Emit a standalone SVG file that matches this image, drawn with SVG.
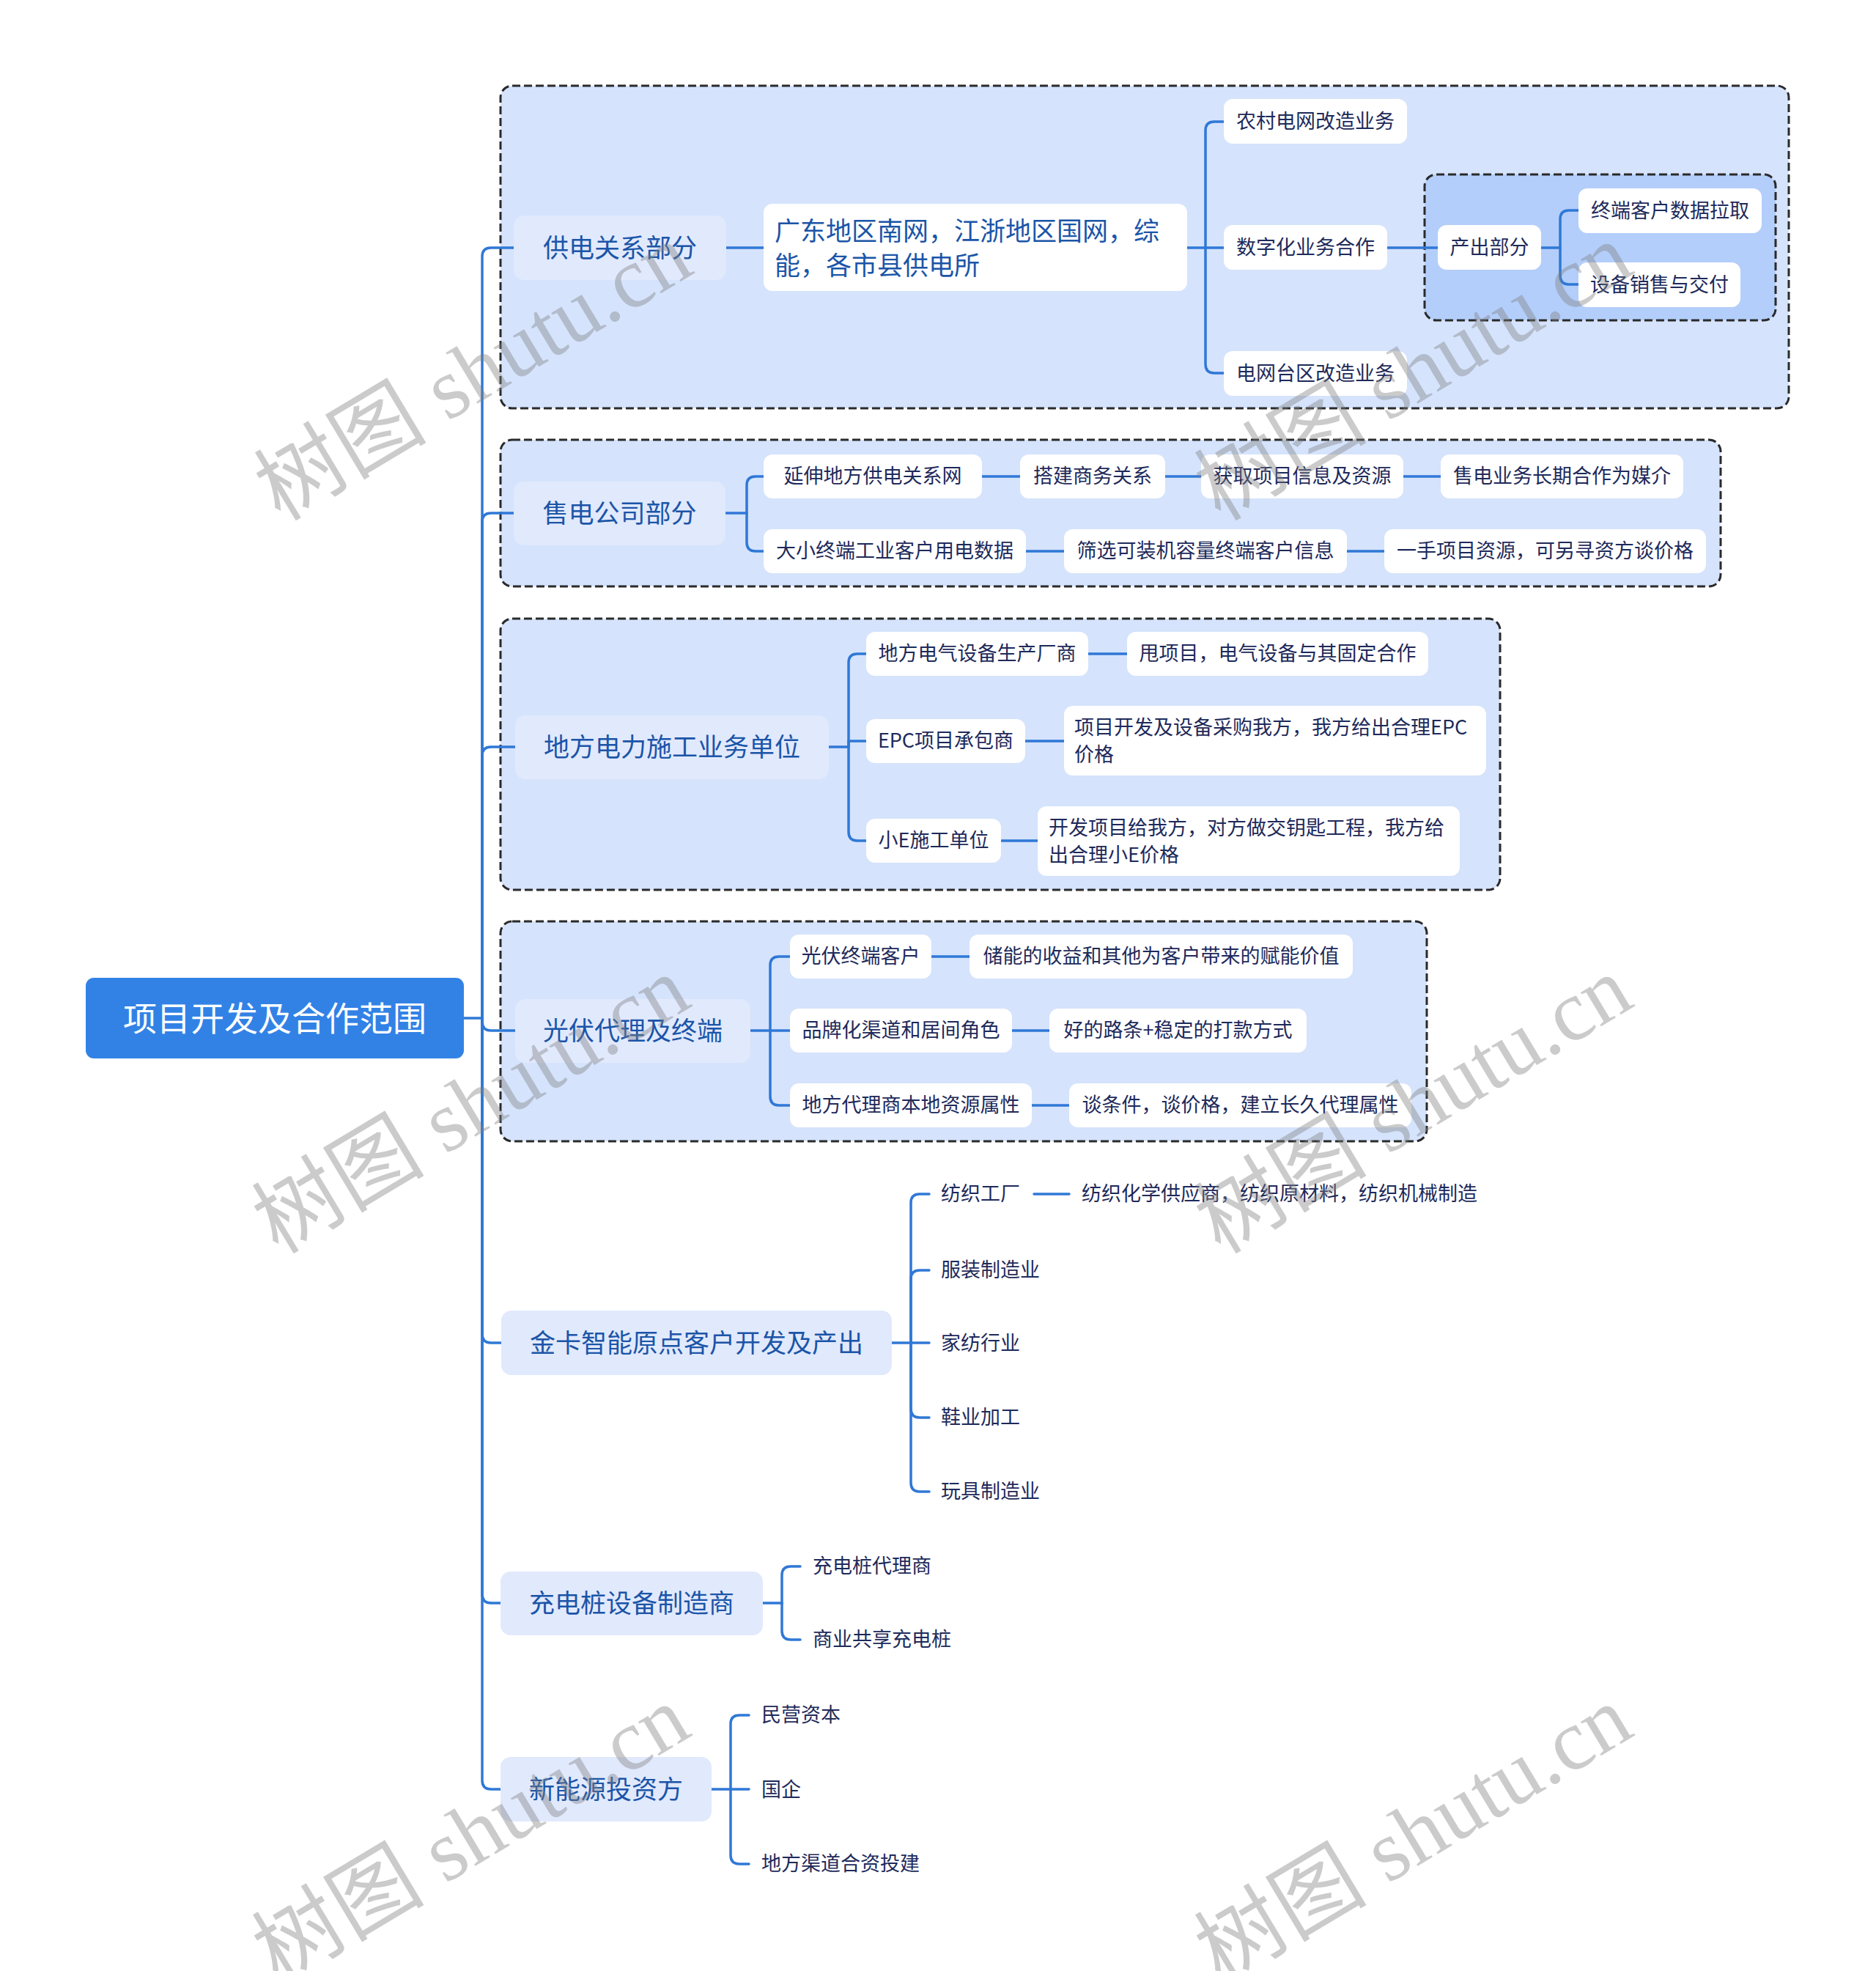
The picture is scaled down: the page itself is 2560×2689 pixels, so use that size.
<svg xmlns="http://www.w3.org/2000/svg" width="2560" height="2689" viewBox="0 0 2560 2689">
<style>
.grp{fill:#d5e3fc;stroke:#2a2a2a;stroke-width:3;stroke-dasharray:11 5}
.grp2{fill:#b3cefa;stroke:#2a2a2a;stroke-width:3;stroke-dasharray:11 5}
.topic{fill:#e1e9fd}
.leaf{fill:#ffffff}
.ln{fill:none;stroke:#2f78d6;stroke-width:3.5;stroke-linecap:round}
text{font-family:"Noto Sans CJK SC","Noto Sans",sans-serif}
.tt{font-size:35px;fill:#1b55a8}
.lt{font-size:27px;fill:#1e2a5a}
.ct{text-anchor:middle;dominant-baseline:central;transform:translate(0px,-3px)}
.st{dominant-baseline:central;transform:translate(0px,-3px)}
.wm{font-family:"Liberation Serif","Noto Sans CJK SC",serif;font-size:118px;fill:#808080;opacity:0.4;text-anchor:middle;dominant-baseline:central}
</style>
<rect width="2560" height="2689" fill="#ffffff"/>

<g id="groups">
<rect class="grp" x="683" y="117" width="1758" height="440" rx="16"/>
<rect class="grp2" x="1944" y="238" width="479" height="199" rx="16"/>
<rect class="grp" x="683" y="600" width="1665" height="200" rx="16"/>
<rect class="grp" x="683" y="844" width="1364" height="370" rx="16"/>
<rect class="grp" x="683" y="1257" width="1264" height="300" rx="16"/>
</g>

<g id="connectors">
<path class="ln" d="M633 1389H658V350Q658 338 670 338H701"/>
<path class="ln" d="M658 1389V712Q658 700 670 700H701"/>
<path class="ln" d="M658 1389V1031Q658 1019 670 1019H703"/>
<path class="ln" d="M658 1389V1394Q658 1406 670 1406H703"/>
<path class="ln" d="M658 1389V1820Q658 1832 670 1832H684"/>
<path class="ln" d="M658 1389V2175Q658 2187 670 2187H683"/>
<path class="ln" d="M658 1389V2429Q658 2441 670 2441H683"/>

<path class="ln" d="M991 338H1042"/>
<path class="ln" d="M1620 338H1645V178Q1645 166 1657 166H1670"/>
<path class="ln" d="M1645 338H1670"/>
<path class="ln" d="M1645 338V497Q1645 509 1657 509H1670"/>
<path class="ln" d="M1893 338H1962"/>
<path class="ln" d="M2103 338H2129V299Q2129 287 2141 287H2154"/>
<path class="ln" d="M2129 338V376Q2129 388 2141 388H2154"/>

<path class="ln" d="M990 700H1019V662Q1019 650 1031 650H1042"/>
<path class="ln" d="M1019 700V740Q1019 752 1031 752H1042"/>
<path class="ln" d="M1340 650H1392M1590 650H1639M1915 650H1966"/>
<path class="ln" d="M1400 752H1452M1838 752H1889"/>

<path class="ln" d="M1131 1019H1158V904Q1158 892 1170 892H1182"/>
<path class="ln" d="M1158 1019V1011H1182"/>
<path class="ln" d="M1158 1019V1135Q1158 1147 1170 1147H1182"/>
<path class="ln" d="M1485 892H1538M1399 1011H1452M1366 1147H1416"/>

<path class="ln" d="M1024 1406H1051V1317Q1051 1305 1063 1305H1078"/>
<path class="ln" d="M1051 1406H1078"/>
<path class="ln" d="M1051 1406V1496Q1051 1508 1063 1508H1078"/>
<path class="ln" d="M1271 1305H1323M1381 1406H1432M1408 1508H1459"/>

<path class="ln" d="M1217 1832H1243V1641Q1243 1629 1255 1629H1268"/>
<path class="ln" d="M1243 1832V1745Q1243 1733 1255 1733H1268"/>
<path class="ln" d="M1243 1832H1268"/>
<path class="ln" d="M1243 1832V1922Q1243 1934 1255 1934H1268"/>
<path class="ln" d="M1243 1832V2023Q1243 2035 1255 2035H1268"/>
<path class="ln" d="M1411 1629H1459"/>

<path class="ln" d="M1041 2187H1067V2149Q1067 2137 1079 2137H1092"/>
<path class="ln" d="M1067 2187V2225Q1067 2237 1079 2237H1092"/>

<path class="ln" d="M971 2441H997V2352Q997 2340 1009 2340H1022"/>
<path class="ln" d="M997 2441H1022"/>
<path class="ln" d="M997 2441V2531Q997 2543 1009 2543H1022"/>
</g>

<g id="root">
<rect x="117" y="1334" width="516" height="110" rx="11" fill="#3282e6"/>
<text class="ct" x="375" y="1389" font-size="46" fill="#ffffff">项目开发及合作范围</text>
</g>

<g id="n-gongdian">
<rect class="topic" x="701" y="294" width="290" height="88" rx="14"/>
<text class="tt ct" x="846" y="338">供电关系部分</text>
</g>
<g id="n-gongdian-1">
<rect class="leaf" x="1042" y="278" width="578" height="119" rx="12"/>
<text class="tt st" x="1057" y="315">广东地区南网，江浙地区国网，综</text>
<text class="tt st" x="1057" y="362">能，各市县供电所</text>
</g>
<g id="n-nongcun"><rect class="leaf" x="1670" y="135" width="250" height="61" rx="12"/><text class="lt ct" x="1795" y="166">农村电网改造业务</text></g>
<g id="n-shuzi"><rect class="leaf" x="1670" y="307" width="223" height="61" rx="12"/><text class="lt ct" x="1781.5" y="338">数字化业务合作</text></g>
<g id="n-taiqu"><rect class="leaf" x="1670" y="479" width="250" height="61" rx="12"/><text class="lt ct" x="1795" y="510">电网台区改造业务</text></g>
<g id="n-chanchu"><rect class="leaf" x="1962" y="307" width="141" height="61" rx="12"/><text class="lt ct" x="2032.5" y="338">产出部分</text></g>
<g id="n-zhongduan"><rect class="leaf" x="2154" y="257" width="250" height="61" rx="12"/><text class="lt ct" x="2279" y="288">终端客户数据拉取</text></g>
<g id="n-shebei"><rect class="leaf" x="2154" y="358" width="221" height="61" rx="12"/><text class="lt ct" x="2264.5" y="389">设备销售与交付</text></g>

<g id="n-shoudian">
<rect class="topic" x="701" y="657" width="289" height="87" rx="14"/>
<text class="tt ct" x="845.5" y="700">售电公司部分</text>
</g>
<g id="n-sd1"><rect class="leaf" x="1042" y="620" width="298" height="60" rx="12"/><text class="lt ct" x="1191" y="650">延伸地方供电关系网</text></g>
<g id="n-sd2"><rect class="leaf" x="1392" y="620" width="198" height="60" rx="12"/><text class="lt ct" x="1491" y="650">搭建商务关系</text></g>
<g id="n-sd3"><rect class="leaf" x="1639" y="620" width="276" height="60" rx="12"/><text class="lt ct" x="1777" y="650">获取项目信息及资源</text></g>
<g id="n-sd4"><rect class="leaf" x="1966" y="620" width="331" height="60" rx="12"/><text class="lt ct" x="2131.5" y="650">售电业务长期合作为媒介</text></g>
<g id="n-sd5"><rect class="leaf" x="1042" y="722" width="358" height="60" rx="12"/><text class="lt ct" x="1221" y="752">大小终端工业客户用电数据</text></g>
<g id="n-sd6"><rect class="leaf" x="1452" y="722" width="386" height="60" rx="12"/><text class="lt ct" x="1645" y="752">筛选可装机容量终端客户信息</text></g>
<g id="n-sd7"><rect class="leaf" x="1889" y="722" width="439" height="60" rx="12"/><text class="lt ct" x="2108.5" y="752">一手项目资源，可另寻资方谈价格</text></g>

<g id="n-shigong">
<rect class="topic" x="703" y="976" width="428" height="87" rx="14"/>
<text class="tt ct" x="917" y="1019">地方电力施工业务单位</text>
</g>
<g id="n-sg1"><rect class="leaf" x="1182" y="862" width="303" height="60" rx="12"/><text class="lt ct" x="1333.5" y="892">地方电气设备生产厂商</text></g>
<g id="n-sg2"><rect class="leaf" x="1538" y="862" width="411" height="60" rx="12"/><text class="lt ct" x="1743.5" y="892">甩项目，电气设备与其固定合作</text></g>
<g id="n-sg3"><rect class="leaf" x="1182" y="981" width="217" height="60" rx="12"/><text class="lt ct" x="1290.5" y="1011">EPC项目承包商</text></g>
<g id="n-sg4"><rect class="leaf" x="1452" y="963" width="576" height="95" rx="12"/>
<text class="lt st" x="1466" y="993">项目开发及设备采购我方，我方给出合理EPC</text>
<text class="lt st" x="1466" y="1030">价格</text></g>
<g id="n-sg5"><rect class="leaf" x="1182" y="1117" width="184" height="60" rx="12"/><text class="lt ct" x="1274" y="1147">小E施工单位</text></g>
<g id="n-sg6"><rect class="leaf" x="1416" y="1100" width="576" height="95" rx="12"/>
<text class="lt st" x="1431" y="1130">开发项目给我方，对方做交钥匙工程，我方给</text>
<text class="lt st" x="1431" y="1167">出合理小E价格</text></g>

<g id="n-guangfu">
<rect class="topic" x="703" y="1363" width="321" height="87" rx="14"/>
<text class="tt ct" x="863.5" y="1406">光伏代理及终端</text>
</g>
<g id="n-gf1"><rect class="leaf" x="1078" y="1275" width="193" height="60" rx="12"/><text class="lt ct" x="1174.5" y="1305">光伏终端客户</text></g>
<g id="n-gf2"><rect class="leaf" x="1323" y="1275" width="523" height="60" rx="12"/><text class="lt ct" x="1584.5" y="1305">储能的收益和其他为客户带来的赋能价值</text></g>
<g id="n-gf3"><rect class="leaf" x="1078" y="1376" width="303" height="60" rx="12"/><text class="lt ct" x="1229.5" y="1406">品牌化渠道和居间角色</text></g>
<g id="n-gf4"><rect class="leaf" x="1432" y="1376" width="351" height="60" rx="12"/><text class="lt ct" x="1607.5" y="1406">好的路条+稳定的打款方式</text></g>
<g id="n-gf5"><rect class="leaf" x="1078" y="1478" width="330" height="60" rx="12"/><text class="lt ct" x="1243" y="1508">地方代理商本地资源属性</text></g>
<g id="n-gf6"><rect class="leaf" x="1459" y="1478" width="467" height="60" rx="12"/><text class="lt ct" x="1692.5" y="1508">谈条件，谈价格，建立长久代理属性</text></g>

<g id="n-jinka">
<rect class="topic" x="684" y="1788" width="533" height="88" rx="14"/>
<text class="tt ct" x="950.5" y="1832">金卡智能原点客户开发及产出</text>
</g>
<g id="n-jk1"><text class="lt st" x="1284" y="1629">纺织工厂</text></g>
<g id="n-jk1a"><text class="lt st" x="1476" y="1629">纺织化学供应商，纺织原材料，纺织机械制造</text></g>
<g id="n-jk2"><text class="lt st" x="1284" y="1733">服装制造业</text></g>
<g id="n-jk3"><text class="lt st" x="1284" y="1833">家纺行业</text></g>
<g id="n-jk4"><text class="lt st" x="1284" y="1934">鞋业加工</text></g>
<g id="n-jk5"><text class="lt st" x="1284" y="2035">玩具制造业</text></g>

<g id="n-chongdian">
<rect class="topic" x="683" y="2144" width="358" height="87" rx="14"/>
<text class="tt ct" x="862" y="2187">充电桩设备制造商</text>
</g>
<g id="n-cd1"><text class="lt st" x="1109" y="2137">充电桩代理商</text></g>
<g id="n-cd2"><text class="lt st" x="1109" y="2237">商业共享充电桩</text></g>

<g id="n-xinneng">
<rect class="topic" x="683" y="2397" width="288" height="88" rx="14"/>
<text class="tt ct" x="827" y="2441">新能源投资方</text>
</g>
<g id="n-xn1"><text class="lt st" x="1039" y="2340">民营资本</text></g>
<g id="n-xn2"><text class="lt st" x="1039" y="2442">国企</text></g>
<g id="n-xn3"><text class="lt st" x="1039" y="2543">地方渠道合资投建</text></g>

<g id="watermarks">
<text class="wm" transform="translate(646 508) rotate(-31)">树图 shutu.cn</text>
<text class="wm" transform="translate(1929 508) rotate(-31)">树图 shutu.cn</text>
<text class="wm" transform="translate(643 1508) rotate(-31)">树图 shutu.cn</text>
<text class="wm" transform="translate(1929 1508) rotate(-31)">树图 shutu.cn</text>
<text class="wm" transform="translate(643 2503) rotate(-31)">树图 shutu.cn</text>
<text class="wm" transform="translate(1929 2503) rotate(-31)">树图 shutu.cn</text>
</g>
</svg>
